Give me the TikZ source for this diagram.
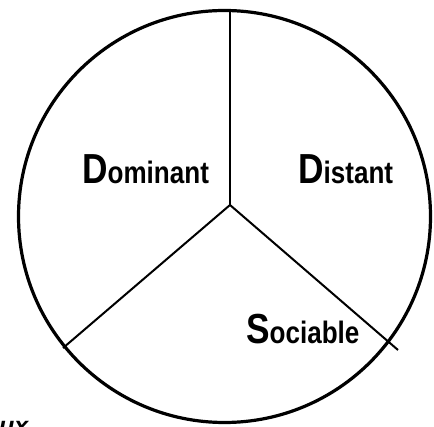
\documentclass[tikz,border=0pt]{standalone}
\usepackage{fontspec}
\setmainfont{Liberation Sans}
\usepackage{graphicx}
\newcommand\seglabel[2]{\scalebox{0.84}[1]{\bfseries\fontsize{42}{42}\selectfont #1\fontsize{31}{31}\selectfont #2}}
\tikzset{
  rim/.style={draw, circle, line width=3.2pt, inner sep=0pt, minimum size=412pt},
  divider/.style={line width=2pt},
  seg/.style={anchor=base west, inner sep=0pt}
}
\begin{document}
\begin{tikzpicture}[x=1pt,y=-1pt]
\useasboundingbox (0,0) rectangle (434,427);
\node[rim] (c) at (224.5,216.5) {};
\coordinate (j) at (230,205);
\coordinate (t) at (230,10.6);
\coordinate (l) at (63,348);
\coordinate (r) at (398,350);
\draw[divider] (t) -- (j);
\draw[divider] (j) -- (l);
\draw[divider] (j) -- (r);
\node[seg] (dom) at (82,184) {\seglabel{D}{ominant}};
\node[seg] (dis) at (298,184) {\seglabel{D}{istant}};
\node[seg] (soc) at (246,344) {\seglabel{S}{ociable}};
\node[anchor=base west, inner sep=0pt] (ux) at (-1,434.5) {\fontsize{25}{25}\selectfont\bfseries\itshape ux};
\end{tikzpicture}
\end{document}
